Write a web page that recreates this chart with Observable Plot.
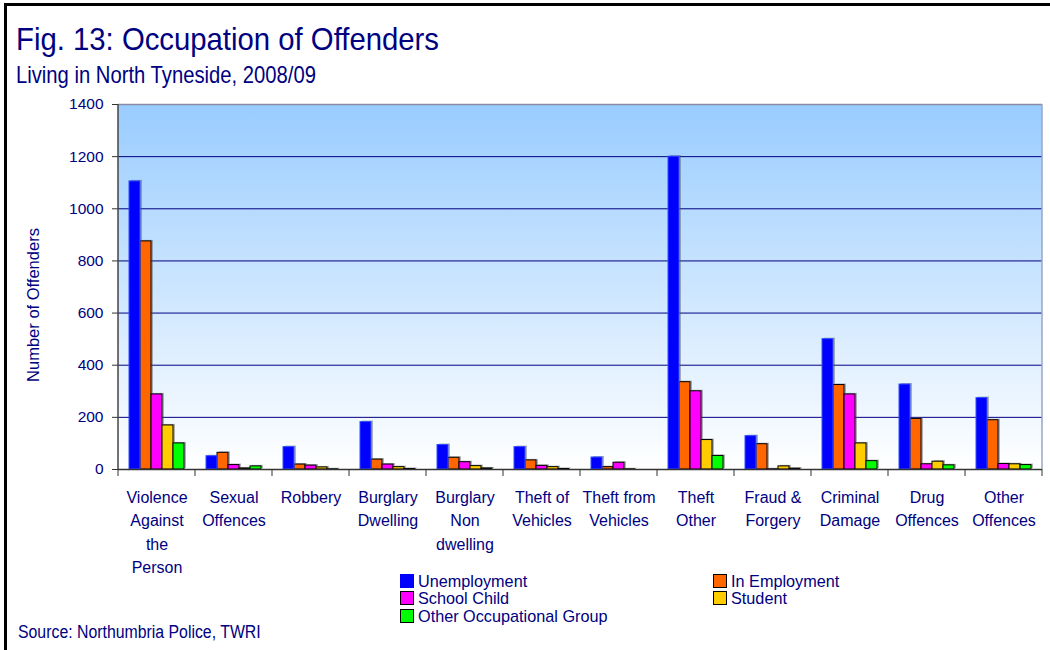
<!DOCTYPE html>
<html>
<head>
<meta charset="utf-8">
<script src="https://cdn.jsdelivr.net/npm/d3@7"></script>
<script src="https://cdn.jsdelivr.net/npm/@observablehq/plot@0.6"></script>
<style>
  html, body { margin: 0; padding: 0; background: #fff; }
  #wrap { position: relative; width: 1050px; height: 650px; overflow: hidden; background: #fff;
          font-family: "Liberation Sans", Arial, sans-serif; color: #000080; }
  #border { position: absolute; left: 4px; top: 3px; width: 1100px; height: 700px;
            border-left: 3px solid #000; border-top: 3px solid #000; }
  #header { position: absolute; left: 0; top: 0; }
  #chart { position: absolute; left: 0; top: 95px; }
  .leg { position: absolute; height: 14px; }
  .sw { position: absolute; left: 0; top: 0; width: 12px; height: 12px; border: 1px solid #000; }
  .lt { position: absolute; left: 18px; top: -1px; font-size: 17px; line-height: 17px; white-space: nowrap;
        transform: scaleX(0.955); transform-origin: 0 0; color: #000080; }
  #source { position: absolute; left: 18px; top: 623px; font-size: 18px; line-height: 18px; white-space: nowrap;
            transform: scaleX(0.88); transform-origin: 0 0; color: #000080; }
</style>
</head>
<body>
<div id="wrap">
  <div id="border"></div>
  <svg id="header" width="1050" height="95">
    <text x="16" y="50" font-size="32" fill="#000080" textLength="423" lengthAdjust="spacingAndGlyphs"
          font-family="Liberation Sans, Arial, sans-serif">Fig. 13: Occupation of Offenders</text>
    <text x="16" y="83.3" font-size="24" fill="#000080" textLength="300" lengthAdjust="spacingAndGlyphs"
          font-family="Liberation Sans, Arial, sans-serif">Living in North Tyneside, 2008/09</text>
  </svg>
  <div id="chart"></div>
  <div id="legend"></div>
  <div id="source">Source: Northumbria Police, TWRI</div>
</div>
<script>
const categories = ["Violence Against the Person", "Sexual Offences", "Robbery", "Burglary Dwelling",
  "Burglary Non dwelling", "Theft of Vehicles", "Theft from Vehicles", "Theft Other",
  "Fraud & Forgery", "Criminal Damage", "Drug Offences", "Other Offences"];
const tickLabels = ["Violence\nAgainst\nthe\nPerson", "Sexual\nOffences", "Robbery", "Burglary\nDwelling",
  "Burglary\nNon\ndwelling", "Theft of\nVehicles", "Theft from\nVehicles", "Theft\nOther",
  "Fraud &\nForgery", "Criminal\nDamage", "Drug\nOffences", "Other\nOffences"];
const series = ["Unemployment", "In Employment", "School Child", "Student", "Other Occupational Group"];
const colors = ["#0000FF", "#FF6600", "#FF00FF", "#FFCC00", "#00FF00"];

const unemployment = [1105, 51, 86, 182, 94, 86, 46, 1200, 128, 500, 326, 274];
const inEmployment = [875, 64, 19, 38, 45, 35, 9, 335, 97, 324, 194, 189];
const schoolChild  = [288, 17, 15, 19, 28, 14, 26, 300, 1, 288, 20, 21];
const student      = [169, 4, 8, 9, 13, 9, 1, 113, 12, 100, 30, 20];
const otherGroup   = [100, 12, 1, 2, 4, 2, 0, 52, 3, 32, 16, 17];
const yTicks = [0, 200, 400, 600, 800, 1000, 1200, 1400];

const seriesValues = [unemployment, inEmployment, schoolChild, student, otherGroup];
const data = [];
categories.forEach((c, i) => {
  series.forEach((s, j) => data.push({category: c, series: s, value: seriesValues[j][i]}));
});

const font = "Liberation Sans, Arial, sans-serif";
const plot = Plot.plot({
  width: 1050,
  height: 490,
  marginTop: 9,
  marginBottom: 116,
  marginLeft: 116,
  marginRight: 7,
  style: {fontFamily: font, background: "transparent", overflow: "visible", color: "#000080"},
  fx: {domain: categories, padding: 0, label: null},
  x: {domain: series, paddingInner: 0, paddingOuter: 0.72, axis: null},
  y: {domain: [0, 1400], label: null},
  color: {domain: series, range: colors},
  marks: [
    Plot.gridY(yTicks.slice(1, -1), {stroke: "#000080", strokeOpacity: 1, strokeWidth: 1}),
    Plot.ruleY([1400], {stroke: "#8a8aa6", strokeWidth: 1.5}),
    Plot.barY(data, {fx: "category", x: "series", y: "value", fill: "#555", fillOpacity: 0.45, dx: 2, dy: -1}),
    Plot.barY(data, {fx: "category", x: "series", y: "value", fill: "series",
      filter: d => d.series !== series[0], stroke: "#000", strokeWidth: 1}),
    Plot.barY(data, {fx: "category", x: "series", y: "value", fill: "series",
      filter: d => d.series === series[0], stroke: "#3050ff", strokeWidth: 1}),
    Plot.ruleY([0], {stroke: "#333", strokeWidth: 1.5}),
    Plot.axisY({ticks: yTicks, tickSize: 6, tickPadding: 9, fontSize: 15.5, fill: "#000080",
      stroke: "#333", label: null, tickFormat: d => String(d)}),
    Plot.axisFx({anchor: "bottom", tickSize: 0, tickPadding: 17, fontSize: 16, lineHeight: 1.46,
      fill: "#000080", label: null, tickFormat: d => tickLabels[categories.indexOf(d)]})
  ]
});

const svg = d3.select(plot);
const fx = plot.scale("fx");
const y = plot.scale("y");
const y0 = y.apply(0), y1 = y.apply(1400);
const xs = categories.map(c => fx.apply(c));
const xEnd = xs[xs.length - 1] + fx.bandwidth;

// gradient plot background (one rect spanning the frame, behind all marks)
const defs = svg.insert("defs", ":first-child");
const grad = defs.append("linearGradient")
  .attr("id", "bggrad").attr("x1", 0).attr("y1", 0).attr("x2", 0).attr("y2", 1);
grad.append("stop").attr("offset", "0%").attr("stop-color", "#99CCFF");
grad.append("stop").attr("offset", "100%").attr("stop-color", "#FFFFFF");
svg.insert("rect", "defs + *")
  .attr("x", xs[0]).attr("y", y1).attr("width", xEnd - xs[0]).attr("height", y0 - y1)
  .attr("fill", "url(#bggrad)");

// axis lines and category boundary ticks derived from the library's scales
const g = svg.append("g");
g.append("line").attr("x1", xs[0]).attr("x2", xs[0]).attr("y1", y0).attr("y2", y1)
  .attr("stroke", "#444").attr("stroke-width", 1.5);
g.append("line").attr("x1", xEnd).attr("x2", xEnd).attr("y1", y0).attr("y2", y1)
  .attr("stroke", "#9aa6c4").attr("stroke-width", 1.5);
[...xs, xEnd].forEach(x => {
  g.append("line").attr("x1", x).attr("x2", x).attr("y1", y0).attr("y2", y0 + 7)
    .attr("stroke", "#333").attr("stroke-width", 1);
});
svg.append("text").attr("transform", "translate(33,210) rotate(-90)")
  .attr("text-anchor", "middle").attr("dy", "0.35em").attr("font-size", 16.5)
  .attr("fill", "#000080").attr("font-family", font).text("Number of Offenders");

document.getElementById("chart").appendChild(plot);

// legend
const legPos = [[400, 573.5], [713, 573.5], [400, 591], [713, 591], [400, 608.5]];
const legend = document.getElementById("legend");
series.forEach((s, i) => {
  const item = document.createElement("div");
  item.className = "leg";
  item.style.left = legPos[i][0] + "px";
  item.style.top = legPos[i][1] + "px";
  const sw = document.createElement("div");
  sw.className = "sw";
  sw.style.background = colors[i];
  if (i === 0) sw.style.borderColor = colors[i];
  const t = document.createElement("span");
  t.className = "lt";
  t.textContent = s;
  item.appendChild(sw);
  item.appendChild(t);
  legend.appendChild(item);
});
</script>
</body>
</html>
